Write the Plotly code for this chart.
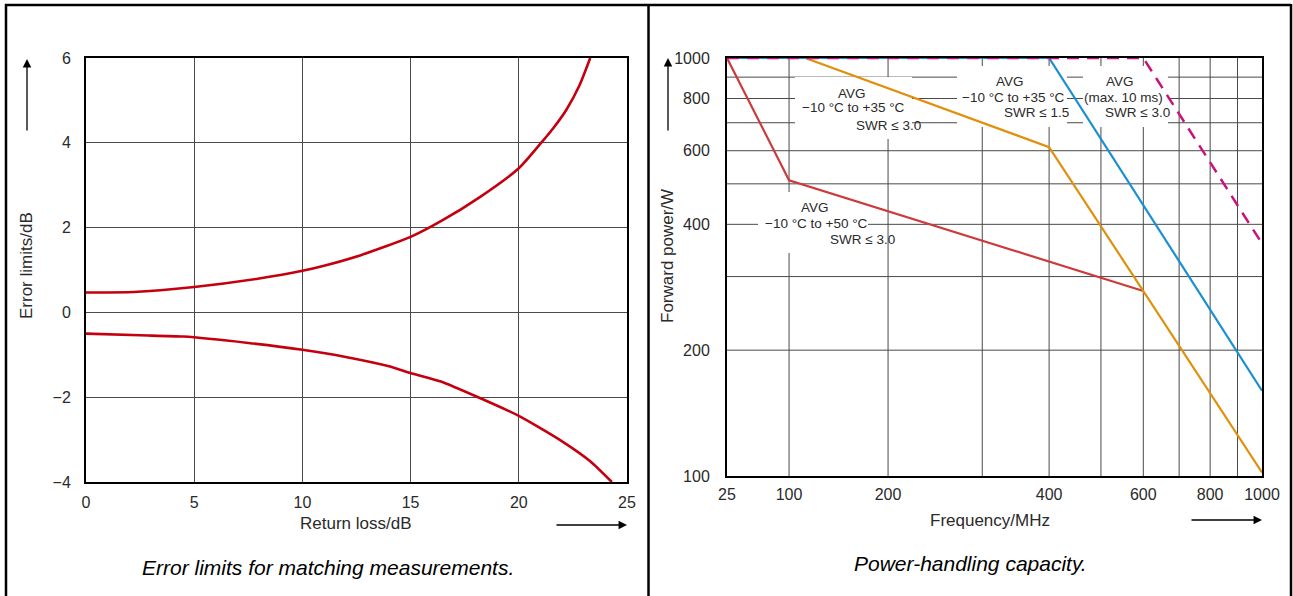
import numpy as np
import plotly.graph_objects as go

# ---------------- data: left panel (error limits) ----------------
rl_upper = [0, 2.2, 5, 8, 10, 11, 12.7, 15, 16.4, 18.2, 20, 21, 21.6, 22.2, 22.8, 23.3]
err_upper = [0.47, 0.48, 0.6, 0.8, 0.98, 1.1, 1.35, 1.78, 2.15, 2.72, 3.4, 3.98, 4.35, 4.78, 5.35, 6.0]
rl_lower = [0, 2.5, 4.5, 7.5, 10, 12, 14, 15, 16.4, 18.2, 20, 22, 23.3, 24.3]
err_lower = [-0.5, -0.54, -0.57, -0.72, -0.88, -1.05, -1.27, -1.43, -1.63, -2.02, -2.44, -3.04, -3.51, -4.0]

left_xticks = [0, 5, 10, 15, 20, 25]
left_yticks = [-4, -2, 0, 2, 4, 6]
left_yticktext = ["\u22124", "\u22122", "0", "2", "4", "6"]

# ---------------- data: right panel (power handling) ----------------
freq_red = [25, 100, 600]
pow_red = [1000, 510, 277]
freq_orange = [25, 112, 400, 1000]
pow_orange = [1000, 1000, 612, 102]
freq_blue = [25, 400, 1000]
pow_blue = [1000, 1000, 160]
freq_magenta = [25, 600, 1000]
pow_magenta = [1000, 1000, 360]

freq_grid = [25, 100, 200, 300, 400, 500, 600, 700, 800, 900, 1000]
freq_labels = ["25", "100", "200", "", "400", "", "600", "", "800", "", "1000"]
pow_grid = [100, 200, 300, 400, 500, 600, 700, 800, 900, 1000]
pow_labels = ["100", "200", "", "400", "", "600", "", "800", "", "1000"]

# The frequency axis of the original is log above 200 MHz and compressed below.
scale_f = [25, 100, 200]
scale_pos = [2.0, 2.116, np.log10(200)]


def fscale(f):
    f = np.asarray(f, dtype=float)
    lf = np.log10(f)
    low = np.interp(lf, np.log10(scale_f), scale_pos)
    return np.where(f >= 200, lf, low)


W, H = 1293, 596


def px(x):
    return x / W


def py(y):
    return 1 - y / H


FONT = "Liberation Sans, Arial, sans-serif"
TXT = "#2a2a2a"
GRID = "#4a4a4a"

fig = go.Figure()

# left curves
red_dark = "#c4000f"
fig.add_trace(go.Scatter(x=rl_upper, y=err_upper, mode="lines", line=dict(color=red_dark, width=2.6, shape="spline", smoothing=0.6),
                         xaxis="x", yaxis="y", showlegend=False))
fig.add_trace(go.Scatter(x=rl_lower, y=err_lower, mode="lines", line=dict(color=red_dark, width=2.6, shape="spline", smoothing=0.6),
                         xaxis="x", yaxis="y", showlegend=False))

# right curves
fig.add_trace(go.Scatter(x=fscale(freq_red), y=pow_red, mode="lines", line=dict(color="#cc3a3c", width=2.2),
                         xaxis="x2", yaxis="y2", showlegend=False))
fig.add_trace(go.Scatter(x=fscale(freq_orange), y=pow_orange, mode="lines", line=dict(color="#e0900c", width=2.2),
                         xaxis="x2", yaxis="y2", showlegend=False))
fig.add_trace(go.Scatter(x=fscale(freq_blue), y=pow_blue, mode="lines", line=dict(color="#1a8fd2", width=2.2),
                         xaxis="x2", yaxis="y2", showlegend=False))
fig.add_trace(go.Scatter(x=fscale(freq_magenta), y=pow_magenta, mode="lines",
                         line=dict(color="#c8137c", width=2.5, dash="12px,8px"),
                         xaxis="x2", yaxis="y2", showlegend=False))

axis_common = dict(showline=True, linecolor="black", linewidth=2, mirror=True, showgrid=True,
                   gridcolor=GRID, gridwidth=1, zeroline=False, ticks="",
                   tickfont=dict(family=FONT, size=16, color=TXT), automargin=False,
                   layer="below traces")

fig.update_layout(
    width=W, height=H,
    margin=dict(l=0, r=0, t=0, b=0),
    paper_bgcolor="white", plot_bgcolor="white",
    showlegend=False,
    xaxis=dict(axis_common, domain=[px(86), px(627)], range=[0, 25], tickvals=left_xticks,
               anchor="y", ticklabelstandoff=5),
    yaxis=dict(axis_common, domain=[py(482), py(58)], range=[-4, 6], tickvals=left_yticks,
               ticktext=left_yticktext, anchor="x", ticklabelstandoff=10),
    xaxis2=dict(axis_common, domain=[px(727), px(1262)], range=[2.0, 3.0], showgrid=False,
                tickvals=list(fscale(freq_grid)), ticktext=freq_labels, anchor="y2", ticklabelstandoff=3),
    yaxis2=dict(axis_common, type="log", domain=[py(476), py(58)], range=[2, 3], showgrid=False,
                tickvals=pow_grid, ticktext=pow_labels, anchor="x2", ticklabelstandoff=12),
)

shapes = []
# right-panel grid drawn as shapes so that label knock-outs can break it
for f in freq_grid[1:-1]:
    shapes.append(dict(type="line", xref="x2", yref="y2 domain", x0=float(fscale(f)), x1=float(fscale(f)),
                       y0=0, y1=1, line=dict(color=GRID, width=1), layer="below"))
for p in pow_grid[1:-1]:
    yd = float(np.log10(p) - 2)
    shapes.append(dict(type="line", xref="x2 domain", yref="y2 domain", x0=0, x1=1, y0=yd, y1=yd,
                       line=dict(color=GRID, width=1), layer="below"))

# white knock-outs behind the curve labels (hide grid, not curves)
for (x0, x1, y0, y1) in [(795, 912, 77, 139), (758, 868, 192, 253), (957, 1067, 66, 127), (1083, 1168, 66, 127)]:
    shapes.append(dict(type="rect", xref="paper", yref="paper", x0=px(x0), x1=px(x1), y0=py(y1), y1=py(y0),
                       fillcolor="white", line=dict(width=0), layer="below"))

# panel frames
shapes.append(dict(type="line", xref="paper", yref="paper", x0=px(5), x1=px(1291), y0=py(5), y1=py(5),
                   line=dict(color="black", width=2.5)))
shapes.append(dict(type="line", xref="paper", yref="paper", x0=px(6), x1=px(6), y0=py(4), y1=py(600),
                   line=dict(color="black", width=2.5)))
shapes.append(dict(type="line", xref="paper", yref="paper", x0=px(648.5), x1=px(648.5), y0=py(4), y1=py(600),
                   line=dict(color="black", width=2.5)))
shapes.append(dict(type="line", xref="paper", yref="paper", x0=px(1291), x1=px(1291), y0=py(4), y1=py(600),
                   line=dict(color="black", width=2.5)))

fig.update_layout(shapes=shapes)

ann = []


def text(x, y, s, size=14, angle=0, italic=False, color=TXT):
    ann.append(dict(xref="paper", yref="paper", x=px(x), y=py(y), text=s, showarrow=False,
                    xanchor="center", yanchor="middle", textangle=angle,
                    font=dict(family=FONT, size=size, color=color, style="italic" if italic else "normal")))


def arrow(x_head, y_head, dx, dy):
    ann.append(dict(xref="paper", yref="paper", x=px(x_head), y=py(y_head), ax=dx, ay=dy,
                    axref="pixel", ayref="pixel", text="", showarrow=True,
                    arrowhead=2, arrowsize=1.3, arrowwidth=1.3, arrowcolor="black"))


# left axis titles and arrows
text(26, 266, "Error limits/dB", size=17, angle=-90)
arrow(27, 59, 0, 73)
text(356, 523, "Return loss/dB", size=17)
arrow(627, 525, -72, 0)
text(328, 567, "Error limits for matching measurements.", size=21, italic=True, color="black")

# right axis titles and arrows
text(667, 256, "Forward power/W", size=17, angle=-90)
arrow(668, 58, 0, 74)
text(990, 520, "Frequency/MHz", size=17)
arrow(1262, 520, -72, 0)
text(970, 563, "Power-handling capacity.", size=21, italic=True, color="black")

# curve labels
lab = 13.5
text(852, 93, "AVG", lab)
text(853, 108, "\u221210 \u00b0C to +35 \u00b0C", lab)
text(888, 125, "SWR \u2264 3.0", lab)

text(815, 207, "AVG", lab)
text(816, 223, "\u221210 \u00b0C to +50 \u00b0C", lab)
text(862, 239, "SWR \u2264 3.0", lab)

text(1010, 81, "AVG", lab)
text(1013, 97, "\u221210 \u00b0C to +35 \u00b0C", lab)
text(1036, 113, "SWR \u2264 1.5", lab)

text(1120, 81, "AVG", lab)
text(1123, 97, "(max. 10 ms)", lab)
text(1137, 113, "SWR \u2264 3.0", lab)

fig.update_layout(annotations=ann)

fig.write_html("out.html", config={"displayModeBar": False},
               post_script="document.body.style.margin='0';document.body.style.padding='0';")
